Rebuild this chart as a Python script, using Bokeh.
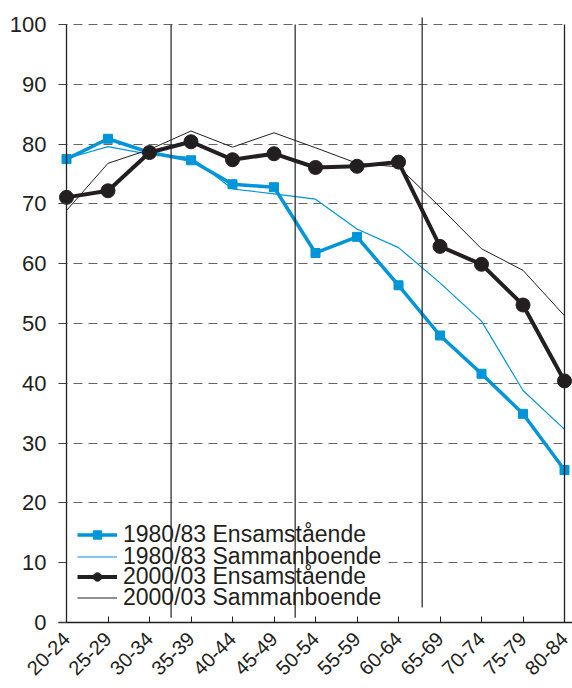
import math
from bokeh.plotting import figure
from bokeh.models import Range1d, FixedTicker, Legend, LegendItem, BoxAnnotation
from bokeh.embed import file_html
from bokeh.resources import INLINE

# ---- data ----
categories = ["20-24", "25-29", "30-34", "35-39", "40-44", "45-49", "50-54",
              "55-59", "60-64", "65-69", "70-74", "75-79", "80-84"]
ens_1980 = [77.5, 80.9, 78.6, 77.3, 73.3, 72.8, 61.8, 64.5, 56.4, 48.0, 41.6, 34.9, 25.5]
sam_1980 = [77.6, 79.6, 78.3, 77.8, 72.5, 71.7, 70.8, 65.8, 62.7, 56.8, 50.4, 38.8, 32.3]
ens_2000 = [71.1, 72.2, 78.6, 80.4, 77.4, 78.4, 76.1, 76.3, 77.0, 62.9, 59.9, 53.1, 40.4]
sam_2000 = [68.9, 76.8, 79.1, 82.2, 79.5, 81.9, 79.4, 76.8, 76.2, 69.5, 62.5, 58.9, 51.3]
labels = ["1980/83 Ensamstående", "1980/83 Sammanboende",
          "2000/03 Ensamstående", "2000/03 Sammanboende"]
y_ticks = [0, 10, 20, 30, 40, 50, 60, 70, 80, 90, 100]
divider_x = [2.52, 5.51, 8.57]
divider_y0 = [0.8, 0.8, 2.5]
divider_y1 = [100, 100, 101.2]

BLUE = "#0095d9"
BLACK = "#231f20"
FONT = "Liberation Sans"

n = len(categories)
x = list(range(n))
pad = 8 / 41.5

p = figure(width=572, height=688, output_backend="svg", toolbar_location=None,
           x_range=Range1d(-pad, n - 1 + pad), y_range=Range1d(0, 101.35),
           min_border_left=58, min_border_right=0, min_border_top=16,
           min_border_bottom=66)
p.outline_line_color = None
p.background_fill_color = "white"
p.border_fill_color = "white"

# grid
p.xgrid.visible = False
g = p.ygrid[0]
g.grid_line_color = "#666666"
g.grid_line_width = 1
g.grid_line_dash = "9 6"
try:
    g.cross_bounds = (-pad, n - 1)
except Exception:
    pass

# axes
xa = p.xaxis[0]
xa.ticker = FixedTicker(ticks=x)
xa.major_label_overrides = {i: c for i, c in enumerate(categories)}
xa.major_label_orientation = math.pi / 4
xa.major_label_text_font = FONT
xa.major_label_text_font_size = "20px"
xa.major_label_text_color = BLACK
xa.major_tick_in = 6
xa.major_tick_out = 0
xa.minor_tick_line_color = None
xa.axis_line_color = BLACK
xa.axis_line_width = 1.5
xa.major_tick_line_color = BLACK
xa.major_label_standoff = 13

ya = p.yaxis[0]
ya.ticker = FixedTicker(ticks=y_ticks)
ya.major_label_text_font = FONT
ya.major_label_text_font_size = "22px"
ya.major_label_text_color = BLACK
ya.axis_line_color = None
ya.major_tick_in = 8
ya.major_tick_out = 0
ya.major_tick_line_color = "#444444"
ya.minor_tick_line_color = None
ya.major_label_standoff = 12

# white box behind the legend (hides the grid line there)
p.add_layout(BoxAnnotation(left=0, right=7.76, bottom=0.6, top=18.3,
                           fill_color="white", fill_alpha=1.0,
                           line_color=None, level="underlay"))

# series
r_s80 = p.line(x, sam_1980, line_color=BLUE, line_width=1.2)
r_s00 = p.line(x, sam_2000, line_color=BLACK, line_width=1)
r_e80 = p.line(x, ens_1980, line_color=BLUE, line_width=3.5)
r_e80m = p.scatter(x, ens_1980, marker="square", size=9, color=BLUE)
r_e00 = p.line(x, ens_2000, line_color=BLACK, line_width=4)
r_e00m = p.scatter(x, ens_2000, marker="circle", size=14, color=BLACK)

# frame verticals and dividers (above the legend)
p.segment(x0=[0, n - 1], y0=[0, 0], x1=[0, n - 1], y1=[100, 100],
          line_color=BLACK, line_width=1.3, level="overlay")
p.segment(x0=divider_x, y0=divider_y0, x1=divider_x, y1=divider_y1,
          line_color=BLACK, line_width=1.2, level="overlay")

# legend: one row per Legend so that rows can sit closer than the font height
item_renderers = [[r_e80, r_e80m], [r_s80], [r_e00, r_e00m], [r_s00]]
row_centers = [87.5, 65.5, 45, 24]  # px above the frame bottom
item_h = 26.5
for lab, rends, cy in zip(labels, item_renderers, row_centers):
    lg = Legend(items=[LegendItem(label=lab, renderers=rends)],
                location=(19, cy - item_h / 2))
    lg.label_text_font = FONT
    lg.label_text_font_size = "23px"
    lg.label_text_color = BLACK
    lg.label_height = 21
    lg.glyph_height = 21
    lg.glyph_width = 40
    lg.label_standoff = 6
    lg.spacing = 0
    lg.padding = 0
    lg.margin = 0
    lg.border_line_color = None
    lg.background_fill_alpha = 0.0
    p.add_layout(lg)

open("out.html", "w").write(file_html(p, INLINE))
